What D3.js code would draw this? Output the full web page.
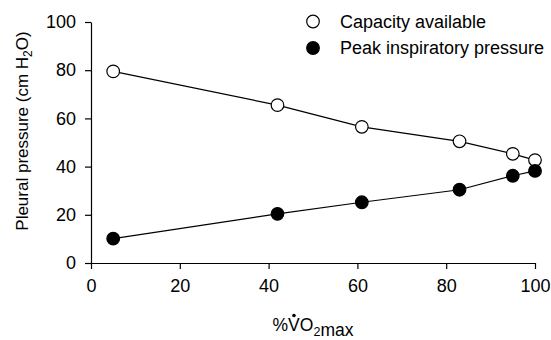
<!DOCTYPE html>
<meta charset='utf-8'>
<style>
    body { margin: 0; background: #fff; }
    text { font-family: 'Liberation Sans', Arial, Helvetica, sans-serif; fill: #000; }
</style>
<body>
<div id='chart'></div>
<script src='https://d3js.org/d3.v7.min.js'></script>
<script>
    // Data
    const vo2max = [ 5, 42, 61, 83, 95, 100 ];
    const capacityAvailable = [ 79.5, 65.5, 56.5, 50.5, 45.3, 42.7 ];
    const peakInspiratory = [ 10.1, 20.4, 25.2, 30.4, 36.2, 38.2 ];
    const xTicks = [ 0, 20, 40, 60, 80, 100 ];
    const yTicks = [ 0, 20, 40, 60, 80, 100 ];
    const legendLabels = [ 'Capacity available', 'Peak inspiratory pressure' ];

    const W = 551, H = 340;
    const margin = { top: 22, left: 91, right: 16, bottom: 77 };
    const width = W - margin.left - margin.right,
        height = H - margin.top - margin.bottom;

    const svg = d3.select( '#chart' ).append( 'svg' )
        .attr( 'width', W )
        .attr( 'height', H );

    const g = svg.append( 'g' )
        .attr( 'transform', `translate( ${margin.left}, ${margin.top} )` );

    const xScale = d3.scaleLinear().domain( [0, 100] ).range( [0, width] );
    const yScale = d3.scaleLinear().domain( [0, 100] ).range( [height, 0] );

    const xAxis = d3.axisBottom( xScale ).tickValues( xTicks ).tickSize( 6 ).tickPadding( 10 ).tickSizeOuter( 0 );
    const yAxis = d3.axisLeft( yScale ).tickValues( yTicks ).tickSize( 6 ).tickPadding( 9 ).tickSizeOuter( 0 );

    const styleAxis = sel => {
        sel.select( '.domain' ).attr( 'stroke', '#000' ).attr( 'stroke-width', 1.2 );
        sel.selectAll( '.tick line' ).attr( 'stroke', '#000' ).attr( 'stroke-width', 1.2 );
        sel.selectAll( '.tick text' )
            .style( 'font-family', "'Liberation Sans', Arial, sans-serif" )
            .style( 'font-size', '18px' )
            .attr( 'fill', '#000' );
    };

    g.append( 'g' )
        .attr( 'transform', `translate( 0, ${height} )` )
        .call( xAxis )
        .call( styleAxis );

    g.append( 'g' )
        .call( yAxis )
        .call( styleAxis );

    // Series
    const series = [
        { name: legendLabels[0], values: capacityAvailable, fill: '#fff' },
        { name: legendLabels[1], values: peakInspiratory, fill: '#000' },
    ];

    const line = d3.line()
        .x( d => xScale( d.x ) )
        .y( d => yScale( d.y ) );

    series.forEach( s => {
        const pts = vo2max.map( ( x, i ) => ( { x: x, y: s.values[i] } ) );
        g.append( 'path' )
            .datum( pts )
            .attr( 'd', line )
            .attr( 'fill', 'none' )
            .attr( 'stroke', '#000' )
            .attr( 'stroke-width', 1.2 );
        g.selectAll( null )
            .data( pts )
            .enter().append( 'circle' )
                .attr( 'cx', d => xScale( d.x ) )
                .attr( 'cy', d => yScale( d.y ) )
                .attr( 'r', 6.3 )
                .attr( 'fill', s.fill )
                .attr( 'stroke', '#000' )
                .attr( 'stroke-width', 1.2 );
    } );

    // Legend
    const legend = svg.append( 'g' )
        .attr( 'transform', 'translate( 313, 21.5 )' );
    series.forEach( ( s, i ) => {
        const row = legend.append( 'g' ).attr( 'transform', `translate( 0, ${i * 26.5} )` );
        row.append( 'circle' )
            .attr( 'r', 6.3 )
            .attr( 'fill', s.fill )
            .attr( 'stroke', '#000' )
            .attr( 'stroke-width', 1.2 );
        row.append( 'text' )
            .attr( 'x', 27 )
            .attr( 'dy', '0.35em' )
            .style( 'font-size', '18px' )
            .text( s.name );
    } );

    // Y axis label
    const yLabel = svg.append( 'text' )
        .attr( 'transform', 'translate( 28, 131 ) rotate( -90 )' )
        .attr( 'text-anchor', 'middle' )
        .style( 'font-size', '17px' );
    yLabel.append( 'tspan' ).text( 'Pleural pressure (cm H' );
    yLabel.append( 'tspan' ).attr( 'dy', 4 ).style( 'font-size', '12px' ).text( '2' );
    yLabel.append( 'tspan' ).attr( 'dy', -4 ).text( 'O)' );

    // X axis label
    const xLabel = svg.append( 'text' )
        .attr( 'x', margin.left + width / 2 )
        .attr( 'y', 331 )
        .attr( 'text-anchor', 'middle' )
        .style( 'font-size', '17.5px' );
    xLabel.append( 'tspan' ).text( '%V' );
    xLabel.append( 'tspan' ).text( 'O' );
    xLabel.append( 'tspan' ).attr( 'dy', 5 ).style( 'font-size', '12.5px' ).text( '2' );
    xLabel.append( 'tspan' ).text( 'max' );

    // dot over the V
    const vBox = xLabel.node().getExtentOfChar( 1 );
    svg.append( 'circle' )
        .attr( 'cx', vBox.x + vBox.width / 2 )
        .attr( 'cy', vBox.y + 0.5 )
        .attr( 'r', 1.8 )
        .attr( 'fill', '#000' );
</script>
</body>
